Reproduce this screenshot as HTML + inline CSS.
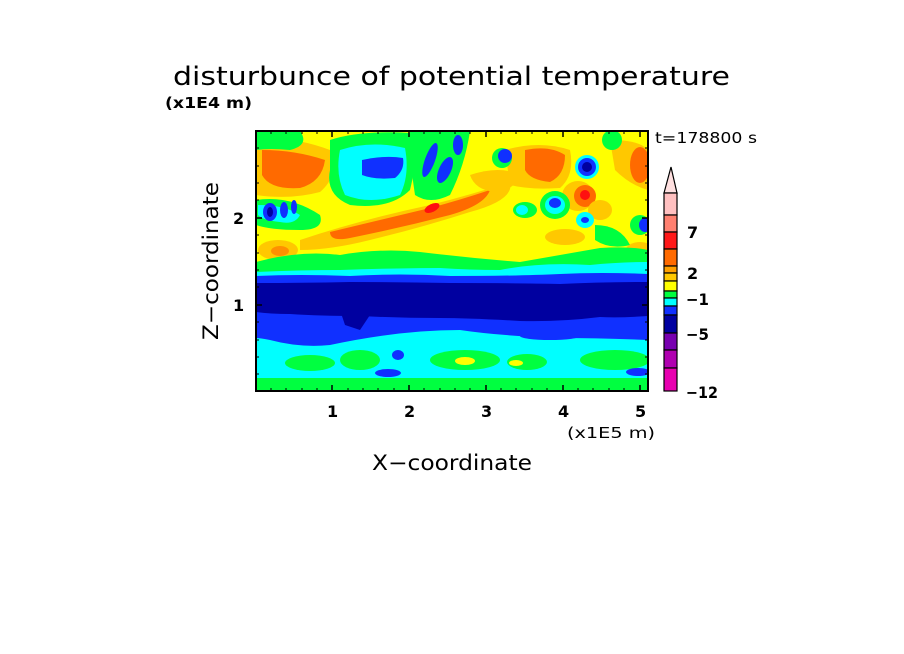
<!DOCTYPE html>
<html><head><meta charset="utf-8"><style>
html,body{margin:0;padding:0;background:#fff;}
svg{display:block;}
text{font-family:"DejaVu Sans","Liberation Sans",sans-serif;fill:#000;}
</style></head><body>
<svg width="904" height="654" viewBox="0 0 904 654" xmlns="http://www.w3.org/2000/svg">
<defs><clipPath id="c"><rect x="256" y="131" width="392" height="260"/></clipPath></defs>
<g clip-path="url(#c)">
<rect x="256" y="131" width="392" height="260" fill="#ffff00"/>
<path d="M256,140 Q290,135 330,150 Q340,175 320,192 Q290,200 256,195Z" fill="#ffc800"/>
<path d="M262,150 Q295,150 325,160 Q322,182 300,188 Q270,190 262,175Z" fill="#ff6a00"/>
<path d="M300,240 Q360,220 430,205 Q470,195 510,182 Q515,200 470,212 Q420,228 370,240 Q330,250 300,250Z" fill="#ffc800"/>
<path d="M330,232 Q380,220 430,208 Q460,200 490,190 Q485,205 450,215 Q400,228 350,238 Q330,242 330,232Z" fill="#ff6a00"/>
<ellipse cx="432" cy="208" rx="8" ry="4" fill="#ff1010" transform="rotate(-25 432 208)"/>
<path d="M470,175 Q500,165 520,175 Q515,190 495,192 Q475,190 470,175Z" fill="#ffc800"/>
<path d="M505,150 Q540,140 570,150 Q575,175 560,188 Q530,190 510,185Z" fill="#ffc800"/>
<path d="M525,150 Q550,145 565,155 Q565,175 550,182 Q530,180 525,170Z" fill="#ff6a00"/>
<path d="M610,140 Q640,140 648,150 L648,190 Q630,185 615,170Z" fill="#ffc800"/>
<ellipse cx="640" cy="165" rx="10" ry="18" fill="#ff6a00"/>
<ellipse cx="578" cy="196" rx="16" ry="15" fill="#ffc800"/>
<ellipse cx="585" cy="196" rx="11" ry="11" fill="#ff6a00"/>
<ellipse cx="585" cy="195" rx="5" ry="5" fill="#ff1010"/>
<ellipse cx="278" cy="250" rx="20" ry="10" fill="#ffc800"/>
<ellipse cx="280" cy="251" rx="9" ry="5" fill="#ff9000"/>
<ellipse cx="640" cy="252" rx="15" ry="10" fill="#ffc800"/>
<ellipse cx="565" cy="237" rx="20" ry="8" fill="#ffc800"/>
<ellipse cx="600" cy="210" rx="12" ry="10" fill="#ffc800"/>
<path d="M256,131 L300,131 Q310,145 290,150 Q270,148 256,150Z" fill="#00ff40"/>
<path d="M330,140 Q360,130 410,133 Q420,150 410,190 Q390,210 350,205 Q325,195 330,170Z" fill="#00ff40"/>
<path d="M340,150 Q370,140 405,148 Q410,175 400,195 Q370,205 345,195 Q335,175 340,150Z" fill="#00ffff"/>
<path d="M362,160 Q385,155 403,158 Q405,170 395,178 Q375,180 362,175Z" fill="#1030ff"/>
<path d="M256,200 Q290,195 320,215 Q325,230 300,230 Q270,230 256,225Z" fill="#00ff40"/>
<path d="M258,205 Q285,205 300,215 Q295,225 280,222 Q262,220 258,215Z" fill="#00ffff"/>
<ellipse cx="270" cy="212" rx="7" ry="9" fill="#1030ff"/><ellipse cx="270" cy="212" rx="3" ry="5" fill="#0000a0"/>
<ellipse cx="284" cy="210" rx="4" ry="8" fill="#1030ff"/><ellipse cx="294" cy="207" rx="3" ry="7" fill="#1030ff"/>
<path d="M410,131 L470,131 Q465,165 450,195 Q430,205 415,195 Q410,165 410,131Z" fill="#00ff40"/>
<ellipse cx="430" cy="160" rx="5" ry="18" fill="#1030ff" transform="rotate(20 430 160)"/>
<ellipse cx="445" cy="170" rx="6" ry="14" fill="#1030ff" transform="rotate(25 445 170)"/>
<ellipse cx="458" cy="145" rx="5" ry="10" fill="#1030ff"/>
<ellipse cx="502" cy="158" rx="10" ry="10" fill="#00ff40"/>
<ellipse cx="505" cy="156" rx="7" ry="7" fill="#1030ff"/>
<ellipse cx="555" cy="205" rx="15" ry="14" fill="#00ff40"/>
<ellipse cx="555" cy="205" rx="10" ry="9" fill="#00ffff"/>
<ellipse cx="555" cy="203" rx="6" ry="5" fill="#1030ff"/>
<ellipse cx="525" cy="210" rx="12" ry="8" fill="#00ff40"/>
<ellipse cx="522" cy="210" rx="6" ry="5" fill="#00ffff"/>
<ellipse cx="587" cy="167" rx="12" ry="12" fill="#00ffff"/>
<ellipse cx="587" cy="167" rx="9" ry="9" fill="#1030ff"/>
<ellipse cx="587" cy="167" rx="5" ry="5" fill="#0000a0"/>
<ellipse cx="585" cy="220" rx="9" ry="8" fill="#00ffff"/><ellipse cx="585" cy="220" rx="4" ry="3" fill="#1030ff"/>
<ellipse cx="612" cy="140" rx="10" ry="10" fill="#00ff40"/>
<ellipse cx="640" cy="225" rx="10" ry="10" fill="#00ff40"/><ellipse cx="645" cy="225" rx="6" ry="7" fill="#1030ff"/>
<path d="M595,225 Q620,225 630,245 Q610,250 595,240Z" fill="#00ff40"/>
<path d="M256,262 Q300,250 340,255 Q380,248 420,252 Q470,258 520,262 Q560,255 600,248 Q630,246 648,250 L648,391 L256,391Z" fill="#00ff40"/>
<path d="M256,272 Q300,270 340,270 Q400,268 440,268 Q470,270 500,270 Q540,262 590,265 Q620,262 648,262 L648,391 L256,391Z" fill="#00ffff"/>
<path d="M256,276 Q300,274 350,276 Q400,273 450,276 Q520,276 560,274 Q600,272 648,274 L648,340 Q600,338 560,338 Q500,336 460,330 Q400,330 330,345 Q300,348 270,340 Q260,338 256,338Z" fill="#1030ff"/>
<path d="M256,283 Q300,283 350,282 Q400,282 450,283 Q520,283 560,284 Q600,282 648,282 L648,316 Q620,318 600,317 Q560,322 520,321 Q470,318 440,318 Q400,318 360,316 Q320,316 290,314 Q270,314 256,312Z" fill="#0000a0"/>
<path d="M340,310 L370,315 L360,330 L345,325Z" fill="#0000a0"/>
<ellipse cx="310" cy="363" rx="25" ry="8" fill="#00ff40"/>
<ellipse cx="360" cy="360" rx="20" ry="10" fill="#00ff40"/>
<ellipse cx="465" cy="360" rx="35" ry="10" fill="#00ff40"/>
<ellipse cx="527" cy="362" rx="20" ry="8" fill="#00ff40"/>
<ellipse cx="615" cy="360" rx="35" ry="10" fill="#00ff40"/>
<ellipse cx="465" cy="361" rx="10" ry="4" fill="#ffff00"/>
<ellipse cx="516" cy="363" rx="7" ry="3" fill="#ffff00"/>
<ellipse cx="550" cy="336" rx="30" ry="4" fill="#1030ff"/>
<ellipse cx="398" cy="355" rx="6" ry="5" fill="#1030ff"/>
<ellipse cx="388" cy="373" rx="13" ry="4" fill="#1030ff"/>
<ellipse cx="638" cy="372" rx="12" ry="4" fill="#1030ff"/>
<rect x="256" y="378" width="392" height="13" fill="#00ff40"/>
</g>
<rect x="256" y="131" width="392" height="260" fill="none" stroke="#000" stroke-width="2"/>
<g stroke="#000" stroke-width="1.5">
<path d="M332,391v-6M409,391v-6M486,391v-6M563,391v-6M640,391v-6M332,131v6M409,131v6M486,131v6M563,131v6M640,131v6"/>
<path d="M256,218h6M256,305h6M648,218h-6M648,305h-6"/>
</g>
<g stroke="#000" stroke-width="1">
<path d="M271,391v-3M286,391v-3M302,391v-3M317,391v-3M348,391v-3M363,391v-3M378,391v-3M394,391v-3M424,391v-3M440,391v-3M455,391v-3M470,391v-3M501,391v-3M516,391v-3M532,391v-3M547,391v-3M578,391v-3M593,391v-3M609,391v-3M624,391v-3"/>
<path d="M271,131v3M286,131v3M302,131v3M317,131v3M348,131v3M363,131v3M378,131v3M394,131v3M424,131v3M440,131v3M455,131v3M470,131v3M501,131v3M516,131v3M532,131v3M547,131v3M578,131v3M593,131v3M609,131v3M624,131v3"/>
<path d="M256,374h3M256,357h3M256,340h3M256,322h3M256,287h3M256,270h3M256,253h3M256,235h3M256,200h3M256,183h3M256,166h3M256,148h3"/>
<path d="M648,374h-3M648,357h-3M648,340h-3M648,322h-3M648,287h-3M648,270h-3M648,253h-3M648,235h-3M648,200h-3M648,183h-3M648,166h-3M648,148h-3"/>
</g>
<g stroke="#000" stroke-width="1.2">
<path d="M664,193 L671,167 L677,193Z" fill="#ffe0e0"/>
<rect x="664" y="193" width="13" height="22" fill="#ffc0c0"/>
<rect x="664" y="215" width="13" height="17" fill="#ff8070"/>
<rect x="664" y="232" width="13" height="17" fill="#ff1818"/>
<rect x="664" y="249" width="13" height="17" fill="#ff6a00"/>
<rect x="664" y="266" width="13" height="7" fill="#ffa000"/>
<rect x="664" y="273" width="13" height="8" fill="#ffc800"/>
<rect x="664" y="281" width="13" height="10" fill="#ffff00"/>
<rect x="664" y="291" width="13" height="7" fill="#00ff40"/>
<rect x="664" y="298" width="13" height="8" fill="#00ffff"/>
<rect x="664" y="306" width="13" height="9" fill="#1030ff"/>
<rect x="664" y="315" width="13" height="18" fill="#0000a0"/>
<rect x="664" y="333" width="13" height="17" fill="#7800b0"/>
<rect x="664" y="350" width="13" height="18" fill="#b000b0"/>
<rect x="664" y="368" width="13" height="23" fill="#e800b0"/>
</g>
<g font-size="16" font-weight="bold">
<text x="687" y="238">7</text>
<text x="687" y="279">2</text>
<text x="686" y="305" textLength="23" lengthAdjust="spacingAndGlyphs">−1</text>
<text x="686" y="340" textLength="23" lengthAdjust="spacingAndGlyphs">−5</text>
<text x="686" y="398" textLength="32" lengthAdjust="spacingAndGlyphs">−12</text>
<text x="327" y="417">1</text><text x="404" y="417">2</text><text x="481" y="417">3</text><text x="558" y="417">4</text><text x="635" y="417">5</text>
<text x="233" y="224">2</text><text x="233" y="311">1</text>
</g>
<text x="655" y="143" font-size="15" textLength="102" lengthAdjust="spacingAndGlyphs">t=178800 s</text>
<text x="567" y="438" font-size="15" textLength="88" lengthAdjust="spacingAndGlyphs">(x1E5 m)</text>
<text x="165" y="108" font-size="15" font-weight="bold" textLength="87" lengthAdjust="spacingAndGlyphs">(x1E4 m)</text>
<text x="173" y="85" font-size="26" textLength="557" lengthAdjust="spacingAndGlyphs">disturbunce of potential temperature</text>
<text x="372" y="470" font-size="21" textLength="160" lengthAdjust="spacingAndGlyphs">X−coordinate</text>
<text transform="translate(218,340) rotate(-90)" font-size="21" textLength="158" lengthAdjust="spacingAndGlyphs">Z−coordinate</text>
</svg>
</body></html>
